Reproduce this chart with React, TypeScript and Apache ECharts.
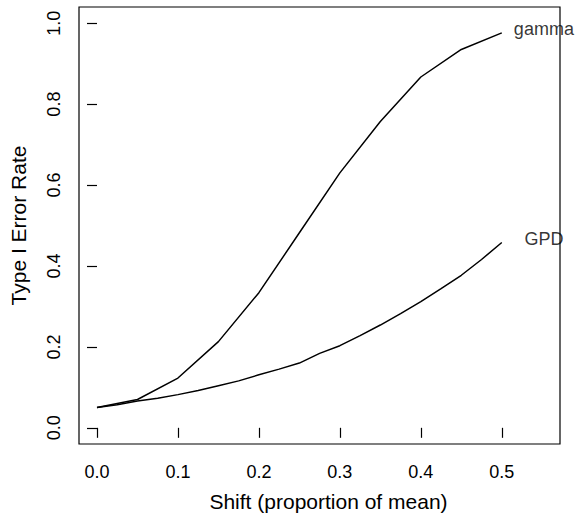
import React, { useEffect, useRef } from "react";
import * as echarts from "echarts";

const shiftGamma = [0, 0.05, 0.1, 0.15, 0.2, 0.25, 0.3, 0.35, 0.4, 0.45, 0.5];
const rateGamma = [0.05, 0.07, 0.123, 0.213, 0.334, 0.482, 0.63, 0.757, 0.867, 0.935, 0.976];

const shiftGPD = [0, 0.025, 0.05, 0.075, 0.1, 0.125, 0.15, 0.175, 0.2, 0.225, 0.25, 0.275, 0.3, 0.325, 0.35, 0.375, 0.4, 0.425, 0.45, 0.475, 0.5];
const rateGPD = [0.05, 0.057, 0.066, 0.073, 0.082, 0.092, 0.104, 0.116, 0.131, 0.145, 0.16, 0.184, 0.203, 0.228, 0.254, 0.282, 0.312, 0.344, 0.377, 0.416, 0.458];

const xTicks = [0, 0.1, 0.2, 0.3, 0.4, 0.5];
const yTicks = [0, 0.2, 0.4, 0.6, 0.8, 1.0];

const curveLabels = ["gamma", "GPD"];
const labelX = [0.552, 0.552];
const labelY = [0.985, 0.466];

const FONT = "Liberation Sans, Arial, Helvetica, sans-serif";

export default function App() {
  const ref = useRef<HTMLDivElement>(null);
  useEffect(() => {
    if (!ref.current) return;
    const chart = echarts.init(ref.current, null, { renderer: "svg" });
    const lineStyle = { color: "#000", width: 1.5 };
    chart.setOption({
      animation: false,
      backgroundColor: "#fff",
      grid: {
        left: 78,
        right: 18,
        top: 7,
        bottom: 71,
        show: true,
        borderColor: "#000",
        borderWidth: 1.2,
        backgroundColor: "transparent",
      },
      xAxis: {
        type: "value",
        min: -0.0222,
        max: 0.5719,
        name: "Shift (proportion of mean)",
        nameLocation: "middle",
        nameGap: 47,
        nameTextStyle: { fontFamily: FONT, fontSize: 21, color: "#000", padding: [0, 0, 0, 18] },
        axisLine: { show: false },
        splitLine: { show: false },
        axisTick: {
          show: true,
          inside: false,
          length: 10,
          customValues: xTicks,
          lineStyle: { color: "#000", width: 1.2 },
        },
        axisLabel: {
          customValues: xTicks,
          margin: 19,
          fontFamily: FONT,
          fontSize: 18,
          color: "#000",
          formatter: (v: number) => v.toFixed(1),
        },
      },
      yAxis: {
        type: "value",
        min: -0.04,
        max: 1.04,
        name: "Type I Error Rate",
        nameLocation: "middle",
        nameGap: 50,
        nameTextStyle: { fontFamily: FONT, fontSize: 21, color: "#000" },
        axisLine: { show: false },
        splitLine: { show: false },
        axisTick: {
          show: true,
          inside: false,
          length: 10,
          customValues: yTicks,
          lineStyle: { color: "#000", width: 1.2 },
        },
        axisLabel: {
          customValues: yTicks,
          rotate: 90,
          margin: 16,
          fontFamily: FONT,
          fontSize: 18,
          color: "#000",
          formatter: (v: number) => v.toFixed(1),
        },
      },
      series: [
        {
          name: "gamma",
          type: "line",
          data: shiftGamma.map((x, i) => [x, rateGamma[i]]),
          showSymbol: false,
          lineStyle,
          silent: true,
        },
        {
          name: "GPD",
          type: "line",
          data: shiftGPD.map((x, i) => [x, rateGPD[i]]),
          showSymbol: false,
          lineStyle,
          silent: true,
        },
        {
          name: "labels",
          type: "scatter",
          symbolSize: 0,
          silent: true,
          itemStyle: { color: "#000" },
          data: curveLabels.map((t, i) => ({ name: t, value: [labelX[i], labelY[i]] })),
          label: {
            show: true,
            position: "inside",
            formatter: (p: any) => p.name,
            fontFamily: FONT,
            fontSize: 18,
            color: "#000",
            textBorderWidth: 0,
            textBorderColor: "transparent",
          },
        },
      ],
    });
    return () => chart.dispose();
  }, []);
  return (
    <div
      ref={ref}
      style={{ position: "fixed", left: 0, top: 0, width: 578, height: 517, background: "#fff" }}
    />
  );
}
